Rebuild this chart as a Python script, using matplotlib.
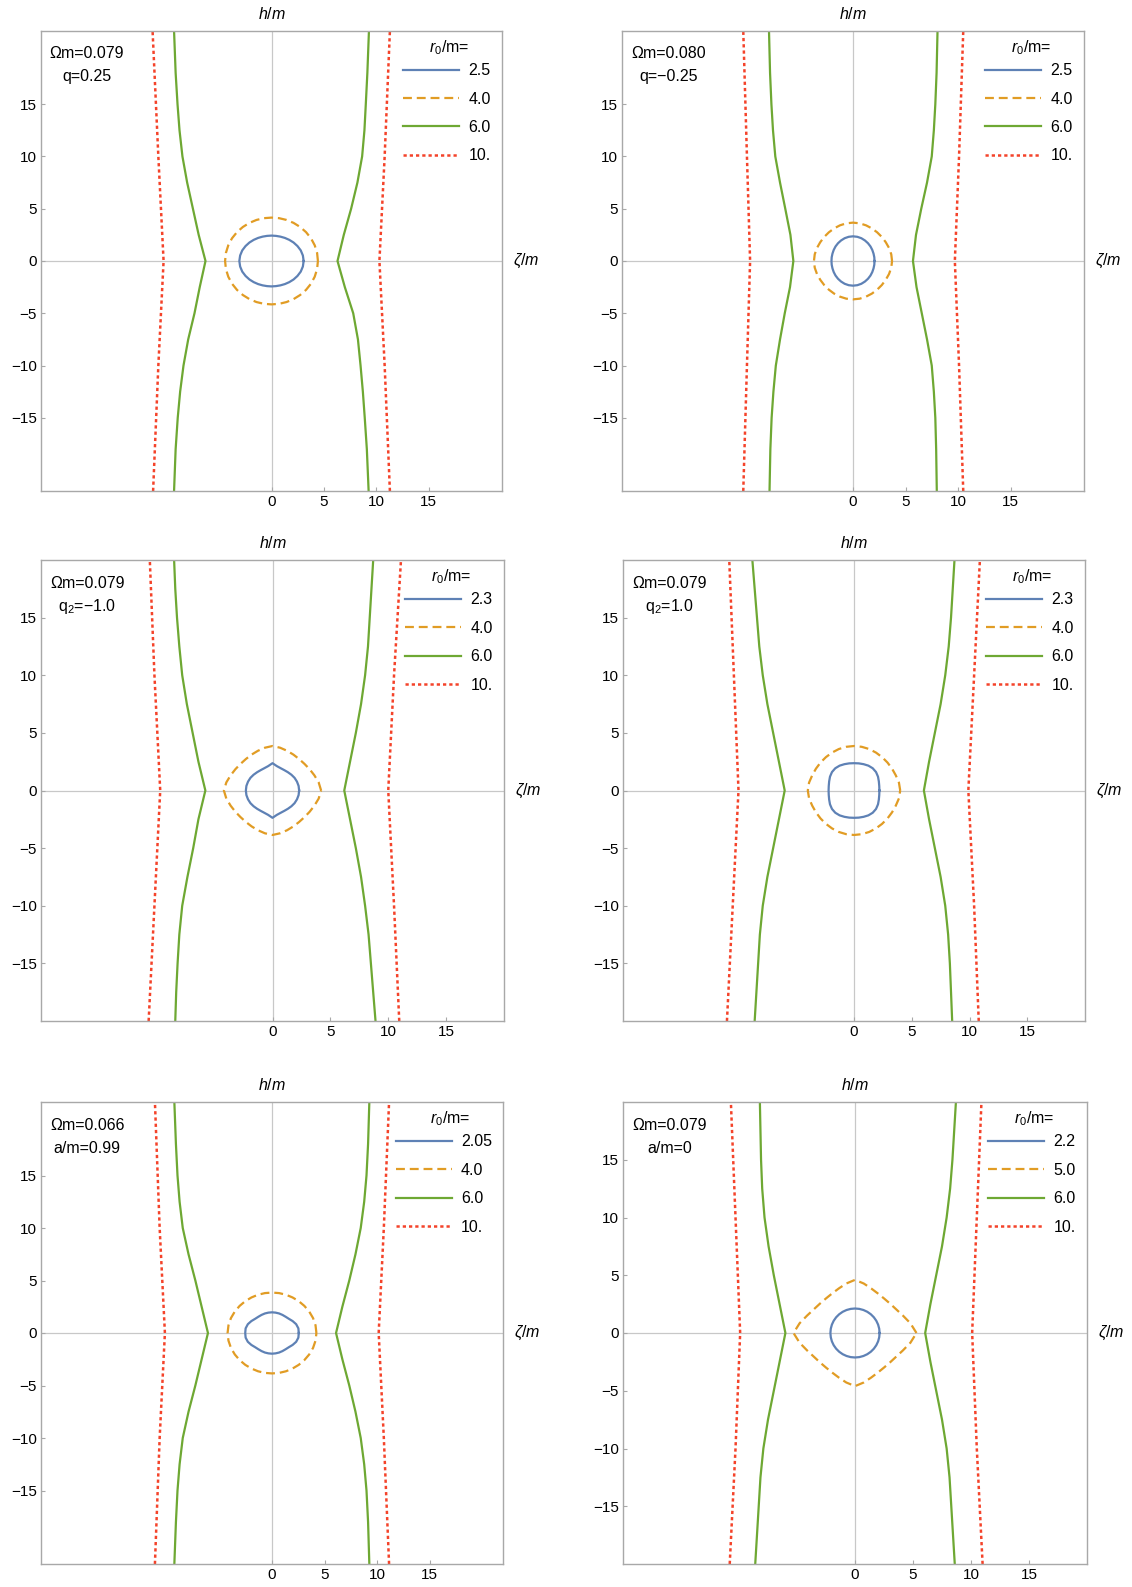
import numpy as np
import matplotlib
matplotlib.use('Agg')
import matplotlib.pyplot as plt

plt.rcParams['font.family'] = ['Liberation Sans', 'DejaVu Sans']
plt.rcParams['mathtext.fontset'] = 'custom'
plt.rcParams['mathtext.rm'] = 'Liberation Sans'
plt.rcParams['mathtext.it'] = 'Liberation Sans:italic'

# ---- data ----
omega_labels = ['Ωm=0.079', 'Ωm=0.080', 'Ωm=0.079', 'Ωm=0.079', 'Ωm=0.066', 'Ωm=0.079']
param_labels = ['q=0.25', 'q=−0.25', r'$\mathrm{q}_2$=−1.0', r'$\mathrm{q}_2$=1.0',
                'a/m=0.99', 'a/m=0']
r0_labels = [['2.5', '4.0', '6.0', '10.'],
             ['2.5', '4.0', '6.0', '10.'],
             ['2.3', '4.0', '6.0', '10.'],
             ['2.3', '4.0', '6.0', '10.'],
             ['2.05', '4.0', '6.0', '10.'],
             ['2.2', '5.0', '6.0', '10.']]
half_range = [22, 22, 20, 20, 22, 20]

y_ticks = [-15, -10, -5, 0, 5, 10, 15]
x_ticks = [0, 5, 10, 15]

# closed curves: radius at these angles (first quadrant), mirrored to the others
quad_angles = [0, 10, 20, 30, 40, 50, 60, 70, 80, 90]
blue_r = [[3.07, 3.04, 2.97, 2.86, 2.75, 2.64, 2.55, 2.48, 2.44, 2.43],
          [2.05, 2.06, 2.08, 2.12, 2.17, 2.22, 2.27, 2.32, 2.35, 2.36],
          [2.30, 2.29, 2.25, 2.20, 2.13, 2.07, 2.04, 2.06, 2.15, 2.37],
          [2.20, 2.22, 2.29, 2.40, 2.49, 2.52, 2.49, 2.43, 2.39, 2.37],
          [2.55, 2.55, 2.45, 2.27, 2.10, 2.02, 1.99, 1.98, 1.97, 1.97],
          [2.12, 2.12, 2.12, 2.12, 2.12, 2.12, 2.12, 2.12, 2.12, 2.12]]
orange_r = [[4.43, 4.42, 4.39, 4.35, 4.30, 4.25, 4.21, 4.18, 4.16, 4.15],
            [3.72, 3.70, 3.65, 3.60, 3.58, 3.58, 3.60, 3.63, 3.66, 3.67],
            [4.20, 4.05, 3.85, 3.70, 3.60, 3.57, 3.60, 3.67, 3.77, 3.86],
            [4.00, 3.95, 3.85, 3.80, 3.78, 3.78, 3.80, 3.83, 3.85, 3.86],
            [4.23, 4.21, 4.16, 4.09, 4.02, 3.96, 3.91, 3.88, 3.86, 3.85],
            [5.30, 4.85, 4.40, 4.10, 3.95, 3.90, 3.95, 4.10, 4.35, 4.60]]

# open branches (r0=6 green, r0=10 red): x of left/right branch at given heights
edge_y_22 = [-22, -18, -15, -12.5, -10, -7.5, -5, -2.5, 0, 2.5, 5, 7.5, 10, 12.5, 15, 18, 22]
edge_y_20 = [-20, -17.5, -15, -12.5, -10, -7.5, -5, -2.5, 0, 2.5, 5, 7.5, 10, 12.5, 15, 17.5, 20]
green_left = [
    [-9.3, -9.15, -8.95, -8.72, -8.4, -7.95, -7.35, -6.85, -6.3, -6.95, -7.5, -8.05, -8.5, -8.78, -8.97, -9.15, -9.3],
    [-7.95, -7.87, -7.75, -7.58, -7.35, -6.95, -6.5, -6.0, -5.68, -5.96, -6.45, -6.95, -7.4, -7.62, -7.77, -7.9, -8.0],
    [-8.4, -8.32, -8.2, -8.05, -7.8, -7.35, -6.85, -6.4, -5.8, -6.4, -6.9, -7.4, -7.8, -8.05, -8.25, -8.4, -8.5],
    [-8.6, -8.45, -8.3, -8.15, -7.9, -7.5, -7.0, -6.5, -6.0, -6.5, -7.0, -7.5, -7.9, -8.2, -8.4, -8.6, -8.8],
    [-9.3, -9.15, -9.0, -8.8, -8.5, -7.95, -7.3, -6.7, -6.1, -6.7, -7.3, -7.95, -8.5, -8.8, -9.0, -9.15, -9.3],
    [-8.6, -8.45, -8.3, -8.15, -7.9, -7.5, -7.0, -6.5, -6.0, -6.5, -7.0, -7.45, -7.8, -8.0, -8.1, -8.15, -8.2]]
green_right = [
    [9.27, 9.1, 8.9, 8.72, 8.5, 8.25, 7.8, 7.0, 6.3, 6.9, 7.6, 8.2, 8.65, 8.87, 9.0, 9.15, 9.3],
    [7.98, 7.92, 7.84, 7.7, 7.5, 7.05, 6.55, 6.05, 5.71, 6.0, 6.5, 7.05, 7.5, 7.7, 7.84, 7.96, 8.05],
    [8.9, 8.7, 8.5, 8.3, 8.0, 7.65, 7.2, 6.7, 6.2, 6.7, 7.2, 7.65, 8.0, 8.25, 8.4, 8.55, 8.7],
    [8.5, 8.4, 8.3, 8.15, 7.9, 7.5, 7.0, 6.5, 6.05, 6.5, 7.0, 7.5, 7.9, 8.2, 8.4, 8.55, 8.7],
    [9.27, 9.15, 9.0, 8.78, 8.45, 7.95, 7.36, 6.7, 6.1, 6.7, 7.36, 7.95, 8.45, 8.78, 9.0, 9.15, 9.27],
    [8.6, 8.45, 8.3, 8.15, 7.9, 7.5, 7.0, 6.5, 6.05, 6.5, 7.0, 7.5, 7.9, 8.2, 8.4, 8.55, 8.7]]
red_y_22 = [-22, -10, 0, 10, 22]
red_y_20 = [-20, -10, 0, 10, 20]
red_left = [[-11.3, -10.8, -10.3, -10.8, -11.35],
            [-10.45, -10.1, -9.8, -10.1, -10.45],
            [-10.7, -10.2, -9.7, -10.2, -10.6],
            [-11.0, -10.5, -10.0, -10.4, -10.8],
            [-11.15, -10.7, -10.2, -10.7, -11.15],
            [-10.8, -10.3, -9.9, -10.3, -10.7]]
red_right = [[11.3, 10.8, 10.3, 10.8, 11.3],
             [10.5, 10.1, 9.7, 10.1, 10.5],
             [10.95, 10.5, 10.0, 10.5, 11.1],
             [10.8, 10.4, 9.9, 10.4, 10.9],
             [11.15, 10.65, 10.16, 10.65, 11.15],
             [11.0, 10.5, 10.1, 10.5, 10.9]]

# ---- styling ----
BLUE, ORANGE, GREEN, RED = '#5E81B5', '#E19C24', '#6EA833', '#F4432A'
FRAME = '#A8A8A8'
LW = 1.6
FS = 11.5
TICK_FS = 11

W, H = 1132, 1587
# panel frames in pixels: left, top, right, bottom
boxes = [(41, 31, 502, 491), (622, 31, 1084, 491),
         (41, 560, 504, 1021), (623, 560, 1085, 1021),
         (41, 1102, 503, 1564), (623, 1102, 1087, 1564)]


def closed_curve(r):
    th = np.deg2rad(quad_angles)
    r = np.asarray(r)
    ang = np.concatenate([th, np.pi - th[::-1], np.pi + th, 2 * np.pi - th[::-1]])
    rr = np.concatenate([r, r[::-1], r, r[::-1]])
    return rr * np.cos(ang), rr * np.sin(ang)


fig = plt.figure(figsize=(W / 100, H / 100), dpi=100)

for i, (l, t, r, b) in enumerate(boxes):
    ax = fig.add_axes([l / W, 1 - b / H, (r - l) / W, (b - t) / H])
    L = half_range[i]
    ey = edge_y_22 if L == 22 else edge_y_20
    ry = red_y_22 if L == 22 else red_y_20

    ax.axhline(0, color='#C8C8C8', lw=0.9, zorder=0)
    ax.axvline(0, color='#C8C8C8', lw=0.9, zorder=0)

    bx, by = closed_curve(blue_r[i])
    ox, oy = closed_curve(orange_r[i])
    ax.plot(bx, by, color=BLUE, lw=LW, label=r0_labels[i][0])
    ax.plot(ox, oy, color=ORANGE, lw=LW, ls=(0, (4, 2.2)), label=r0_labels[i][1])
    ax.plot(green_left[i], ey, color=GREEN, lw=LW, label=r0_labels[i][2])
    ax.plot(green_right[i], ey, color=GREEN, lw=LW)
    ax.plot(red_left[i], ry, color=RED, lw=1.8, ls=(0, (1.3, 1.2)), label=r0_labels[i][3])
    ax.plot(red_right[i], ry, color=RED, lw=1.8, ls=(0, (1.3, 1.2)))

    ax.set_xlim(-L, L)
    ax.set_ylim(-L, L)
    ax.set_xticks(x_ticks)
    ax.set_yticks(y_ticks)
    ax.tick_params(direction='in', length=3, width=0.8, color=FRAME,
                   labelsize=TICK_FS, pad=3)
    for s in ax.spines.values():
        s.set_color(FRAME)
        s.set_linewidth(1.0)

    ax.annotate('$h/m$', xy=(0, 1), xycoords=('data', 'axes fraction'),
                xytext=(0, 17), textcoords='offset pixels',
                ha='center', va='center', fontsize=FS)
    ax.annotate(r'$\zeta/m$', xy=(1, 0), xycoords=('axes fraction', 'data'),
                xytext=(11, 0), textcoords='offset pixels',
                ha='left', va='center', fontsize=FS)

    ax.text(0.10, 0.95, omega_labels[i], transform=ax.transAxes,
            ha='center', va='center', fontsize=FS)
    ax.text(0.10, 0.90, param_labels[i], transform=ax.transAxes,
            ha='center', va='center', fontsize=FS)

    # legend title drawn by hand so the gap to the first row matches
    ax.annotate(r'$r_0$/m=', xy=(1, 1), xycoords='axes fraction',
                xytext=(-53, -17), textcoords='offset pixels',
                ha='center', va='center', fontsize=FS)
    ax.legend(loc='upper right', bbox_to_anchor=(0.976, 0.93), frameon=False,
              fontsize=FS, handlelength=3.5, handletextpad=0.58,
              labelspacing=0.84, borderpad=0, borderaxespad=0)

fig.savefig('out.png', dpi=100)
